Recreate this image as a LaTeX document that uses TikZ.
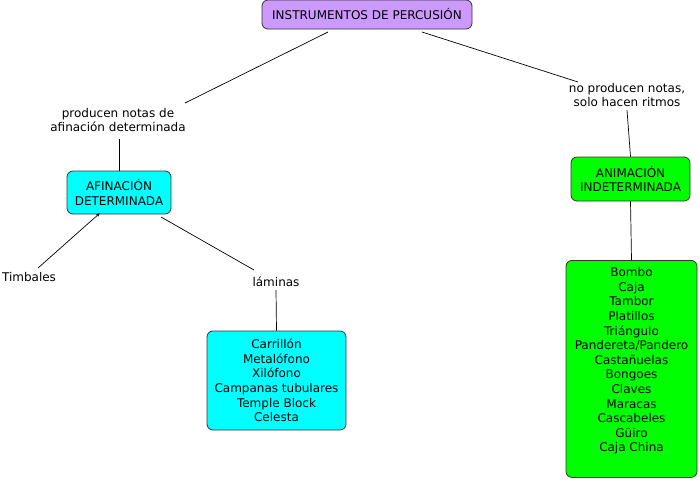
\documentclass[tikz,border=0pt]{standalone}
\usepackage{fontspec}
\setmainfont{DejaVu Sans}
\usetikzlibrary{calc,arrows.meta}
\definecolor{cpurple}{HTML}{CC99FF}
\definecolor{ccyan}{HTML}{00FFFF}
\definecolor{cgreen}{HTML}{00FF00}
\definecolor{cborder}{HTML}{333333}
\begin{document}
\begin{tikzpicture}[x=1pt,y=-1pt,
  box/.style={draw=cborder,line width=0.8pt,rounded corners=6pt,align=center,inner sep=0pt,
    font=\fontsize{12}{14.6}\selectfont},
  lab/.style={align=center,inner sep=0pt,font=\fontsize{12}{14.6}\selectfont},
  conn/.style={draw=black,line width=0.7pt}]
\useasboundingbox (0,0) rectangle (700,480);
\node[box,fill=cpurple,minimum width=210pt,minimum height=29pt] (top) at (367,14.5) {INSTRUMENTOS DE PERCUSIÓN};
\node[lab] (lab1) at (118,120) {producen notas de\\afinación determinada};
\node[box,fill=ccyan,minimum width=104pt,minimum height=43pt] (afin) at (119,192.5) {AFINACIÓN\\DETERMINADA};
\node[lab] (timb) at (29,277) {Timbales};
\node[lab] (lam) at (276,282) {láminas};
\node[box,fill=ccyan,minimum width=139pt,minimum height=99pt] (carr) at (276.5,380.5) {Carrillón\\Metalófono\\Xilófono\\Campanas tubulares\\Temple Block\\Celesta};
\node[lab] (lab2) at (627,95) {no producen notas,\\solo hacen ritmos};
\node[box,fill=cgreen,minimum width=119pt,minimum height=44pt] (anim) at (630.5,179) {ANIMACIÓN\\INDETERMINADA};
\node[box,fill=cgreen,minimum width=131pt,minimum height=217pt,anchor=north] (big) at (631.5,260) {};
\node[lab] (bigtext) at (631.5,361) {Bombo\\Caja\\Tambor\\Platillos\\Triángulo\\Pandereta/Pandero\\Castañuelas\\Bongoes\\Claves\\Maracas\\Cascabeles\\Güiro\\Caja China};
\draw[conn] ($(top.center)+(-39,17.5)$) -- ($(lab1.center)+(67,-17)$);
\draw[conn] ($(lab1.center)+(1,19)$) -- (afin.north);
\draw[conn,-{Stealth[length=4pt,width=3pt]}] ($(timb.center)+(9,-9)$) -- ($(afin.center)+(-19,20.5)$);
\draw[conn] ($(afin.center)+(42,24.5)$) -- ($(lam.center)+(-22,-12)$);
\draw[conn] ($(lam.center)+(0,8)$) -- (carr.north);
\draw[conn] ($(top.center)+(55,17.5)$) -- ($(lab2.center)+(-49,-13)$);
\draw[conn] ($(lab2.center)+(0,15)$) -- (anim.north);
\draw[conn] (anim.south) -- (big.north);
\end{tikzpicture}
\end{document}
